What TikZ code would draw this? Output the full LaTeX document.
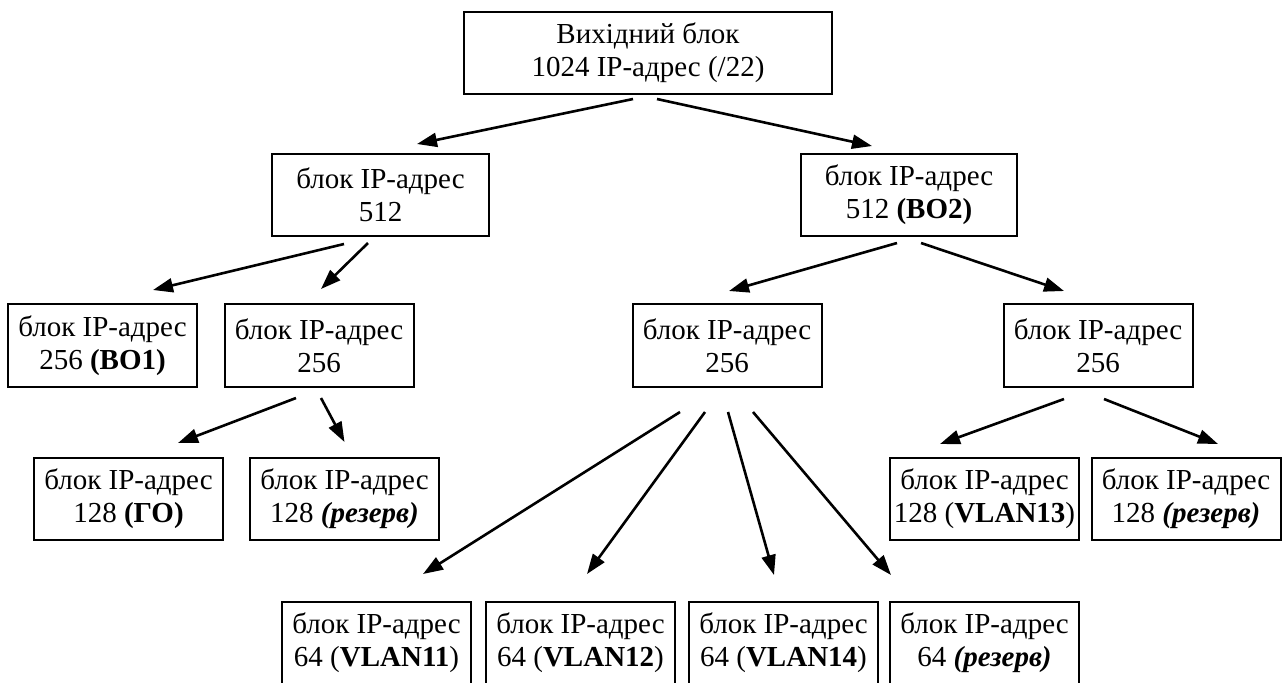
\documentclass[tikz,border=0pt]{standalone}
\usepackage{fontspec}
\setmainfont{Liberation Serif}
\usetikzlibrary{calc, arrows.meta}
\tikzset{
  blk/.style={draw, line width=1pt, text centered, align=center, inner sep=0pt,
    minimum width=94.5pt, minimum height=41.5pt, font=\fontsize{14.5}{16.5}\selectfont},
}
\begin{document}
\begin{tikzpicture}[x=0.5pt, y=-0.5pt, >={Triangle[length=10pt,width=7pt]}]
\useasboundingbox (0,0) rectangle (1283,682);
% nodes %
\node[blk, minimum width=184pt, minimum height=41pt] (s) at (648,53) {Вихідний блок\\1024 IP-адрес (/22)};
\node[blk, minimum width=108.5pt, minimum height=41pt] (a) at (380.5,195) {блок IP-адрес\\512};
\node[blk, minimum width=108pt, minimum height=41pt] (b) at (909,195) {блок IP-адрес\\512 \textbf{(ВО2)}};
\node[blk] (a1) at (102.5,345.5) {блок IP-адрес\\256 \textbf{(ВО1)}};
\node[blk] (a2) at (319,345.5) {блок IP-адрес\\256};
\node[blk] (b1) at (727,345.5) {блок IP-адрес\\256};
\node[blk] (b2) at (1098,345.5) {блок IP-адрес\\256};
\node[blk, minimum height=41pt] (a21) at (128.5,499) {блок IP-адрес\\128 \textbf{(ГО)}};
\node[blk, minimum height=41pt] (a22) at (344.5,499) {блок IP-адрес\\128 \textbf{\textit{(резерв)}}};
\node[blk, minimum height=41pt] (b21) at (984.5,499) {блок IP-адрес\\128 (\textbf{VLAN13})};
\node[blk, minimum height=41pt] (b22) at (1186,499) {блок IP-адрес\\128 \textbf{\textit{(резерв)}}};
\node[blk, minimum height=41pt] (b11) at (376.5,643) {блок IP-адрес\\64 (\textbf{VLAN11})};
\node[blk, minimum height=41pt] (b12) at (580.5,643) {блок IP-адрес\\64 (\textbf{VLAN12})};
\node[blk, minimum height=41pt] (b13) at (783.5,643) {блок IP-адрес\\64 (\textbf{VLAN14})};
\node[blk, minimum height=41pt] (b14) at (984.5,643) {блок IP-адрес\\64 \textbf{\textit{(резерв)}}};
% edges %
\draw[->, line width=1.3pt] ($(s.south)+(-15,4)$) -- ($(a.north)+(36.5,-9)$);
\draw[->, line width=1.3pt] ($(s.south)+(9,4)$) -- ($(b.north)+(-37,-7)$);
\draw[->, line width=1.3pt] ($(a.south)+(-36.5,7)$) -- ($(a1.north)+(50.5,-13)$);
\draw[->, line width=1.3pt] ($(a.south)+(-12.5,6)$) -- ($(a2.north)+(2,-14)$);
\draw[->, line width=1.3pt] ($(b.south)+(-12,6)$) -- ($(b1.north)+(2,-12)$);
\draw[->, line width=1.3pt] ($(b.south)+(12,6)$) -- ($(b2.north)+(-34,-12)$);
\draw[->, line width=1.3pt] ($(a2.south)+(-23,10)$) -- ($(a21.north)+(49.5,-14)$);
\draw[->, line width=1.3pt] ($(a2.south)+(2,10)$) -- ($(a22.north)+(0,-15)$);
\draw[->, line width=1.3pt] ($(b1.south)+(-47,24)$) -- ($(b11.north)+(46.5,-27)$);
\draw[->, line width=1.3pt] ($(b1.south)+(-22,24)$) -- ($(b12.north)+(6.5,-27)$);
\draw[->, line width=1.3pt] ($(b1.south)+(1,24)$) -- ($(b13.north)+(-9.5,-26)$);
\draw[->, line width=1.3pt] ($(b1.south)+(26,24)$) -- ($(b14.north)+(-93.5,-26)$);
\draw[->, line width=1.3pt] ($(b2.south)+(-34,11)$) -- ($(b21.north)+(-44.5,-13)$);
\draw[->, line width=1.3pt] ($(b2.south)+(6,11)$) -- ($(b22.north)+(32,-13)$);
\end{tikzpicture}
\end{document}
